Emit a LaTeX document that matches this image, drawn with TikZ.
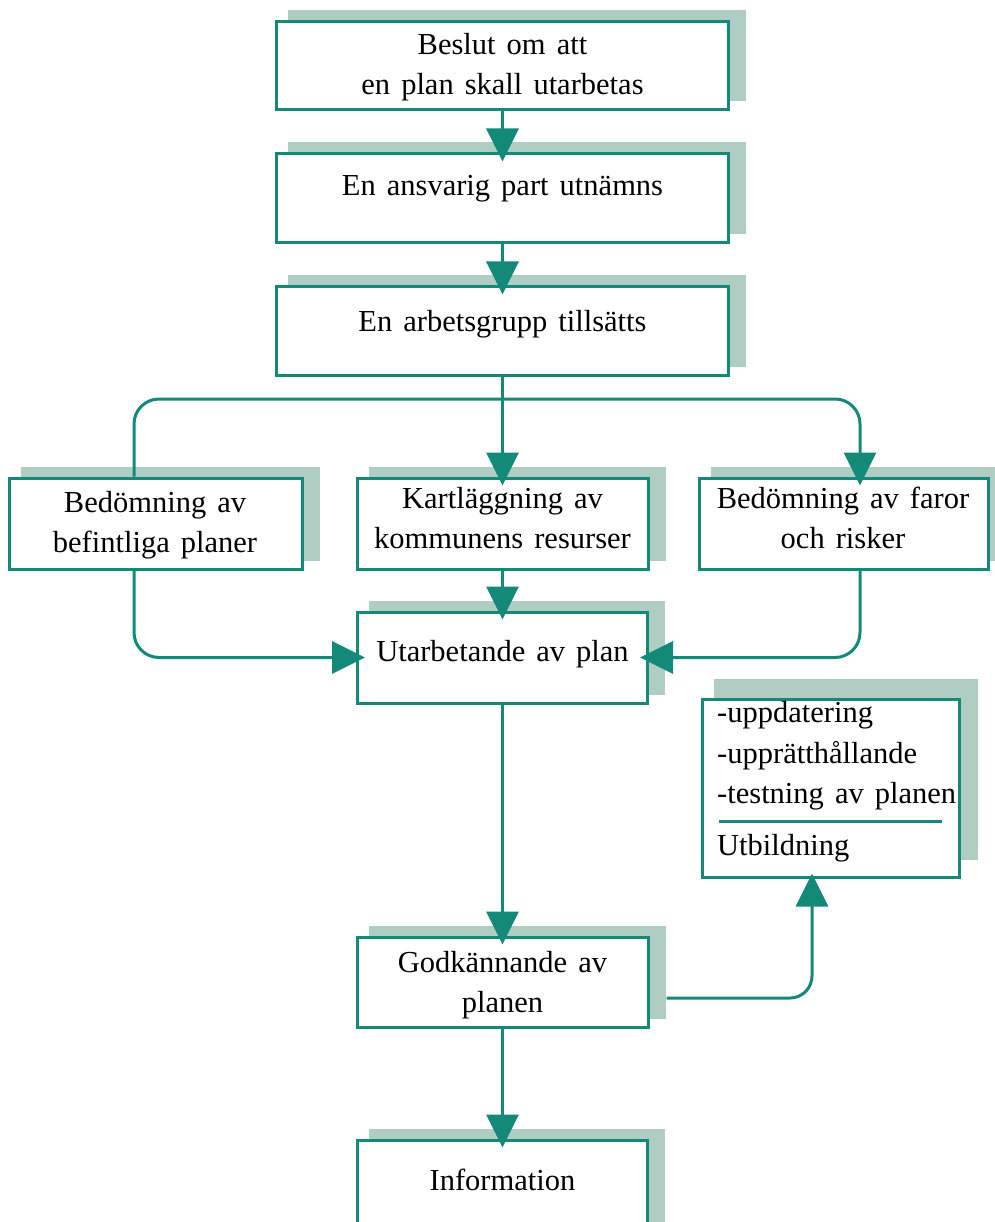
\documentclass[tikz,border=0pt]{standalone}
\usepackage{fontspec}
\setmainfont{Liberation Serif}[WordSpace=1.45]
\usetikzlibrary{arrows.meta}
\definecolor{flowline}{HTML}{138A78}
\definecolor{flowshade}{HTML}{B0CDC3}
\pgfdeclarelayer{shadelayer}
\pgfsetlayers{shadelayer,main}
\begin{document}
\begin{tikzpicture}[x=1pt,y=-1pt,
  box/.style={draw=flowline, line width=3pt, fill=white, inner sep=0pt},
  txt/.style={inner sep=0pt, align=center, font=\fontsize{30.5}{40}\selectfont},
  ltxt/.style={inner sep=0pt, align=left, font=\fontsize{30.5}{40.5}\selectfont},
  conn/.style={draw=flowline, line width=3pt},
  flow/.style={conn, -{Triangle[length=33pt,width=32pt]}, shorten >=-9pt},
  shade/.style={fill=flowshade}]
\useasboundingbox (0,0) rectangle (994,1222);

% boxes
\node[box, minimum width=452pt, minimum height=88pt] (b1) at (502.5,66) {};
\node[box, minimum width=452pt, minimum height=89pt] (b2) at (502.5,198.5) {};
\node[box, minimum width=452pt, minimum height=88pt] (b3) at (502.5,331) {};
\node[box, minimum width=293pt, minimum height=91pt] (bl) at (155.5,523.5) {};
\node[box, minimum width=291pt, minimum height=91pt] (bm) at (502.5,523.5) {};
\node[box, minimum width=289pt, minimum height=91pt] (br) at (843.5,523.5) {};
\node[box, minimum width=290pt, minimum height=91pt] (bu) at (502.5,657.5) {};
\node[box, minimum width=257pt, minimum height=178pt] (bx) at (830.5,788) {};
\node[box, minimum width=291pt, minimum height=90pt] (bg) at (502.5,982) {};
\node[box, minimum width=290pt, minimum height=100pt] (bi) at (502.5,1190) {};

% drop shadows behind the boxes
\begin{pgfonlayer}{shadelayer}
  \foreach \b in {b1,b2,b3,bl,bm,br,bu,bg,bi}
    \fill[shade] ([shift={(13pt,10pt)}]\b.south west) rectangle ([shift={(16pt,10pt)}]\b.north east);
  \fill[shade] ([shift={(13pt,19pt)}]bx.south west) rectangle ([shift={(17pt,19pt)}]bx.north east);
\end{pgfonlayer}

% texts
\node[txt] (t1) at (502.5,67) {Beslut om att\\en plan skall utarbetas};
\node[txt, anchor=base] (t2) at (502.5,196) {En ansvarig part utnämns};
\node[txt, anchor=base] (t3) at (502.5,331) {En arbetsgrupp tillsätts};
\node[txt] (tl) at (155,525) {Bedömning av\\befintliga planer};
\node[txt] (tm) at (502.5,518) {Kartläggning av\\kommunens resurser};
\node[txt] (tr) at (843,518) {Bedömning av faror\\och risker};
\node[txt, anchor=base] (tu) at (502.5,661) {Utarbetande av plan};
\node[ltxt, anchor=west] (tx1) at (717,756) {-uppdatering\\-upprätthållande\\-testning av planen};
\node[ltxt, anchor=base west] (tx2) at (717,855) {Utbildning};
\node[txt] (tg) at (502.5,985) {Godkännande av\\planen};
\node[txt, anchor=base] (ti) at (502.5,1190) {Information};

% rule between the two parts of the follow-up box
\draw[conn] (719,821) -- (942,821);

% branch points
\coordinate (jl) at (134,399);
\coordinate (jr) at (860,399);
\coordinate (ju) at (812,998);

% connectors
\draw[flow] (b1.south) -- (b2.north);
\draw[flow] (b2.south) -- (b3.north);
\draw[flow] (b3.south) -- (bm.north);
\draw[flow, rounded corners=25pt] (bl.north -| jl) -- (jl) -- (jr) -- (jr |- br.north);
\draw[flow, rounded corners=25pt] (bl.south -| jl) |- (bu.west);
\draw[flow, rounded corners=25pt] (br.south -| jr) |- (bu.east);
\draw[flow] (bm.south) -- (bu.north);
\draw[flow] (bu.south) -- (bg.north);
\draw[flow, shorten >=-5pt, rounded corners=22pt] ([shift={(17pt,-16pt)}]bg.east) -| (bx.south -| ju);
\draw[flow] (bg.south) -- (bi.north);
\end{tikzpicture}
\end{document}
